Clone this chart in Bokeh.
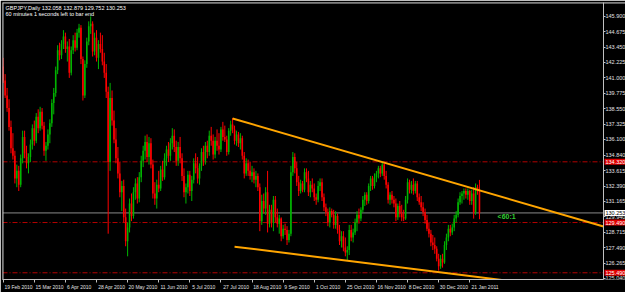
from bokeh.plotting import figure
from bokeh.models import (Range1d, LinearAxis, FixedTicker, PrintfTickFormatter,
                          Label, Span, ColumnDataSource)
from bokeh.embed import file_html
from bokeh.resources import INLINE

# ---------------- data ----------------
header_text = "GBPJPY,Daily  132.058 132.879 129.752 130.253"
timer_text = "60 minutes 1 seconds left to bar end"
timer_tag = "<60:1"

opens = [141.9, 140.8, 139.6, 138.6, 137.1, 135.4, 134.8, 133.0, 133.6, 132.5,
         134.6, 136.3, 135.0, 134.2, 134.7, 135.7, 137.0, 136.0, 137.9, 137.0,
         138.3, 137.2, 135.2, 135.6, 136.5, 137.4, 139.0, 139.8, 141.6, 143.2,
         142.8, 143.7, 144.3, 143.3, 143.5, 141.4, 143.2, 144.0, 143.4, 144.6,
         145.0, 142.5, 139.6, 142.1, 143.9, 145.1, 145.3, 143.1, 144.2, 142.6,
         143.7, 143.3, 142.3, 141.4, 139.9, 134.3, 139.4, 137.6, 136.1, 134.6,
         133.4, 131.9, 132.4, 129.9, 128.0, 129.1, 131.0, 130.0, 131.9, 132.6,
         131.4, 133.1, 134.4, 135.2, 135.9, 134.7, 135.8, 134.1, 131.8, 131.4,
         132.5, 132.2, 133.7, 133.1, 134.6, 135.3, 134.8, 135.8, 136.4, 135.5,
         134.4, 135.5, 134.6, 133.2, 131.9, 132.3, 133.3, 132.0, 132.9, 134.2,
         133.8, 133.0, 134.0, 135.1, 134.4, 135.6, 135.1, 136.4, 136.0, 134.9,
         136.0, 135.6, 135.3, 136.9, 136.3, 136.1, 135.1, 136.8, 137.3, 136.9,
         136.0, 136.5, 135.8, 136.2, 134.8, 133.4, 134.2, 133.6, 133.2, 133.5,
         132.9, 133.2, 132.3, 129.6, 131.2, 130.6, 131.9, 129.4, 130.5, 129.5,
         131.3, 129.9, 129.4, 129.8, 128.4, 129.0, 128.9, 128.1, 128.6, 133.5,
         134.7, 133.8, 132.7, 132.0, 132.6, 132.1, 133.5, 133.0, 131.9, 132.5,
         132.2, 131.5, 131.3, 132.4, 132.7, 131.5, 130.7, 130.3, 129.5, 130.4,
         130.1, 129.3, 130.0, 128.9, 128.0, 128.4, 127.5, 127.1, 127.3, 128.9,
         128.3, 128.7, 129.5, 130.1, 129.8, 130.5, 131.3, 131.7, 131.2, 132.4,
         133.0, 132.4, 133.1, 133.4, 133.8, 133.4, 134.1, 133.2, 132.5, 131.3,
         131.7, 131.3, 131.0, 129.9, 130.8, 130.2, 129.9, 129.8, 131.3, 132.7,
         132.1, 132.5, 132.0, 132.6, 131.5, 131.1, 130.7, 130.3, 129.7, 129.0,
         128.6, 127.9, 127.7, 127.4, 126.6, 126.0, 126.6, 126.3, 127.7, 128.3,
         129.0, 128.7, 129.1, 129.8, 130.1, 131.1, 131.6, 131.8, 132.0, 131.7,
         132.0, 131.2, 131.8, 130.3, 132.3, 132.058]
highs = [142.6, 141.3, 140.2, 139.3, 137.6, 136.6, 135.2, 134.1, 134.0, 134.9,
         136.8, 136.8, 135.6, 135.0, 136.1, 137.3, 137.6, 138.2, 138.5, 138.7,
         138.6, 137.5, 135.9, 136.9, 137.7, 139.3, 140.2, 141.9, 143.6, 143.8,
         144.0, 144.8, 144.6, 143.9, 144.1, 143.5, 144.4, 144.6, 144.9, 145.3,
         145.2, 142.7, 142.4, 144.2, 145.5, 145.9, 145.5, 144.6, 144.8, 144.0,
         144.6, 144.4, 143.0, 142.1, 140.3, 140.6, 140.0, 138.4, 137.0, 135.5,
         134.3, 132.8, 132.9, 130.6, 129.5, 131.4, 131.8, 132.3, 133.0, 133.1,
         133.5, 134.8, 135.6, 136.4, 136.5, 136.3, 136.2, 134.5, 132.7, 132.9,
         133.6, 134.0, 134.4, 135.0, 135.6, 135.9, 136.2, 137.0, 136.9, 136.0,
         135.9, 136.3, 135.0, 133.8, 132.6, 133.6, 133.6, 133.2, 134.6, 135.0,
         134.7, 134.2, 135.4, 135.6, 135.9, 136.0, 136.8, 137.1, 136.5, 136.3,
         136.9, 136.6, 137.1, 137.5, 137.2, 136.4, 137.0, 137.6, 137.8, 137.2,
         136.8, 136.7, 136.6, 136.4, 135.1, 134.6, 134.5, 134.3, 134.0, 133.8,
         133.6, 133.4, 132.6, 131.7, 131.8, 132.3, 133.6, 130.9, 130.9, 131.6,
         131.6, 130.6, 130.1, 129.9, 129.3, 129.4, 129.2, 128.9, 134.0, 135.1,
         135.0, 134.3, 133.2, 132.9, 132.8, 133.8, 133.8, 133.6, 132.8, 133.0,
         132.6, 131.8, 132.8, 133.0, 133.0, 131.8, 131.0, 130.6, 130.7, 130.6,
         130.5, 130.4, 130.2, 129.3, 128.8, 128.8, 128.3, 127.6, 129.3, 129.3,
         129.0, 129.8, 130.4, 130.6, 130.7, 131.6, 131.9, 131.9, 132.6, 133.2,
         133.2, 133.4, 133.6, 134.0, 134.0, 134.33, 134.2, 133.6, 132.7, 131.9,
         132.0, 131.6, 131.4, 131.0, 131.2, 130.9, 130.5, 131.6, 133.0, 132.9,
         132.8, 133.0, 132.8, 132.8, 131.8, 131.6, 131.1, 130.6, 130.1, 129.5,
         128.9, 128.5, 128.3, 127.6, 127.0, 126.9, 127.0, 128.0, 128.6, 129.3,
         129.3, 129.4, 130.1, 130.4, 131.4, 131.9, 132.0, 132.2, 132.2, 132.2,
         132.1, 132.1, 132.3, 132.6, 132.5, 132.879]
lows = [140.6, 139.4, 138.3, 136.8, 135.0, 134.5, 132.6, 132.3, 132.0, 132.3,
        134.2, 134.6, 133.8, 133.4, 134.3, 135.3, 135.6, 135.8, 136.6, 136.8,
        136.9, 134.8, 134.4, 135.3, 135.8, 137.1, 138.1, 139.5, 141.3, 142.4,
        142.5, 143.3, 143.0, 142.3, 141.0, 141.2, 142.9, 143.1, 143.2, 144.2,
        142.1, 139.2, 139.4, 141.8, 143.6, 144.5, 142.7, 142.8, 142.3, 141.7,
        143.0, 142.0, 141.0, 139.4, 128.6, 133.6, 137.2, 135.8, 134.2, 133.0,
        131.5, 130.4, 129.5, 127.6, 126.8, 128.7, 129.6, 129.8, 131.3, 131.0,
        131.1, 132.7, 133.9, 134.5, 134.3, 134.1, 133.8, 131.4, 130.9, 130.6,
        131.9, 132.0, 132.8, 132.9, 134.0, 134.3, 134.4, 135.3, 135.1, 134.0,
        134.0, 134.2, 132.8, 131.5, 131.0, 131.8, 131.6, 131.2, 132.6, 133.4,
        132.6, 132.5, 133.6, 134.0, 134.1, 134.6, 134.8, 135.6, 134.5, 134.6,
        135.2, 134.9, 135.1, 136.0, 135.9, 134.8, 134.9, 136.4, 136.6, 135.7,
        135.6, 135.5, 135.3, 134.5, 133.0, 133.2, 133.2, 132.9, 132.7, 132.6,
        132.3, 132.0, 128.8, 129.3, 130.2, 130.1, 128.7, 129.1, 129.1, 128.8,
        129.5, 129.1, 128.6, 128.0, 128.2, 128.5, 127.7, 127.9, 128.4, 133.2,
        133.4, 132.4, 131.6, 131.8, 131.9, 131.9, 132.7, 131.6, 131.5, 131.9,
        131.2, 130.9, 131.1, 132.0, 131.2, 130.4, 130.0, 129.2, 129.1, 129.9,
        129.0, 129.0, 128.6, 127.7, 127.5, 127.2, 126.8, 126.45, 126.9, 128.0,
        127.9, 128.5, 128.8, 129.4, 129.6, 130.3, 130.8, 130.9, 131.0, 132.0,
        132.1, 132.2, 132.7, 133.0, 133.1, 133.2, 132.9, 132.2, 131.0, 130.9,
        131.0, 130.7, 129.6, 129.7, 129.9, 129.6, 129.6, 129.7, 131.0, 131.8,
        131.8, 131.7, 131.8, 131.2, 130.9, 130.4, 130.0, 129.4, 128.8, 128.3,
        127.6, 127.3, 127.0, 126.4, 125.66, 125.8, 125.9, 126.2, 127.3, 128.0,
        128.4, 128.5, 128.8, 129.5, 129.9, 130.9, 131.0, 131.3, 131.4, 131.3,
        130.9, 130.9, 129.8, 130.1, 131.7, 129.752]
closes = [140.8, 139.6, 138.6, 137.1, 135.4, 134.8, 133.0, 133.6, 132.5, 134.6,
          136.3, 135.0, 134.2, 134.7, 135.7, 137.0, 136.0, 137.9, 137.0, 138.3,
          137.2, 135.2, 135.6, 136.5, 137.4, 139.0, 139.8, 141.6, 143.2, 142.8,
          143.7, 144.3, 143.3, 143.5, 141.4, 143.2, 144.0, 143.4, 144.6, 145.0,
          142.5, 139.6, 142.1, 143.9, 145.1, 145.3, 143.1, 144.2, 142.6, 143.7,
          143.3, 142.3, 141.4, 139.9, 134.3, 139.4, 137.6, 136.1, 134.6, 133.4,
          131.9, 132.4, 129.9, 128.0, 129.1, 131.0, 130.0, 131.9, 132.6, 131.4,
          133.1, 134.4, 135.2, 135.9, 134.7, 135.8, 134.1, 131.8, 131.4, 132.5,
          132.2, 133.7, 133.1, 134.6, 135.3, 134.8, 135.8, 136.4, 135.5, 134.4,
          135.5, 134.6, 133.2, 131.9, 132.3, 133.3, 132.0, 132.9, 134.2, 133.8,
          133.0, 134.0, 135.1, 134.4, 135.6, 135.1, 136.4, 136.0, 134.9, 136.0,
          135.6, 135.3, 136.9, 136.3, 136.1, 135.1, 136.8, 137.3, 136.9, 136.0,
          136.5, 135.8, 136.2, 134.8, 133.4, 134.2, 133.6, 133.2, 133.5, 132.9,
          133.2, 132.3, 129.6, 131.2, 130.6, 131.9, 129.4, 130.5, 129.5, 131.3,
          129.9, 129.4, 129.8, 128.4, 129.0, 128.9, 128.1, 128.6, 133.5, 134.7,
          133.8, 132.7, 132.0, 132.6, 132.1, 133.5, 133.0, 131.9, 132.5, 132.2,
          131.5, 131.3, 132.4, 132.7, 131.5, 130.7, 130.3, 129.5, 130.4, 130.1,
          129.3, 130.0, 128.9, 128.0, 128.4, 127.5, 127.1, 127.3, 128.9, 128.3,
          128.7, 129.5, 130.1, 129.8, 130.5, 131.3, 131.7, 131.2, 132.4, 133.0,
          132.4, 133.1, 133.4, 133.8, 133.4, 134.1, 133.2, 132.5, 131.3, 131.7,
          131.3, 131.0, 129.9, 130.8, 130.2, 129.9, 129.8, 131.3, 132.7, 132.1,
          132.5, 132.0, 132.6, 131.5, 131.1, 130.7, 130.3, 129.7, 129.0, 128.6,
          127.9, 127.7, 127.4, 126.6, 126.0, 126.6, 126.3, 127.7, 128.3, 129.0,
          128.7, 129.1, 129.8, 130.1, 131.1, 131.6, 131.8, 132.0, 131.7, 132.0,
          131.2, 131.8, 130.3, 132.3, 132.058, 130.253]

date_tick_bars = [0, 16, 32, 48, 64, 80, 96, 112, 128, 144, 160, 176, 192, 208, 224, 240]
date_labels = ["19 Feb 2010", "15 Mar 2010", "6 Apr 2010", "28 Apr 2010", "20 May 2010",
               "11 Jun 2010", "5 Jul 2010", "27 Jul 2010", "18 Aug 2010", "9 Sep 2010",
               "1 Oct 2010", "25 Oct 2010", "16 Nov 2010", "8 Dec 2010", "30 Dec 2010",
               "21 Jan 2011"]
price_ticks = [145.900, 144.675, 143.450, 142.225, 141.000, 139.775, 138.550, 137.325,
               136.100, 134.840, 133.615, 132.390, 131.165, 129.940, 128.715, 127.490,
               126.265, 125.040]
level_prices = [134.320, 129.490, 125.490]
bid_price = 130.253
upper_trend_bars = [118, 195]
upper_trend_prices = [137.77, 134.30]
lower_trend_bars = [119, 177]
lower_trend_prices = [127.57, 126.45]

# ---------------- style ----------------
FONT = "Liberation Sans"
GREEN = "#00b400"
RED = "#ff0000"
FRAME = "#c0c0c0"
PX_PER_BAR = 1.944
FRAME_W = 623                      # frame spans the whole width; price scale drawn inside it
X_START = -0.36
X_END = X_START + FRAME_W / PX_PER_BAR
X_AXIS = X_START + 601 / PX_PER_BAR  # where the price scale line sits
Y_START, Y_END = 124.955, 147.0
DATE_FS = 5.0

p = figure(width=625, height=292, output_backend="svg", toolbar_location=None,
           x_range=Range1d(X_START, X_END), y_range=Range1d(Y_START, Y_END),
           x_axis_location=None, y_axis_location=None,
           background_fill_color="black", border_fill_color="black",
           min_border_left=2, min_border_top=2, min_border_right=0, min_border_bottom=10)
p.xgrid.visible = False
p.ygrid.visible = False
p.outline_line_color = None

# window border (left and top) and the price-scale border
p.add_layout(Span(location=X_START, dimension="height", line_color=FRAME, line_width=2))
p.add_layout(Span(location=Y_END, dimension="width", line_color=FRAME, line_width=2))
p.add_layout(Span(location=X_AXIS, dimension="height", line_color=FRAME, line_width=1))

# right price scale
yaxis = LinearAxis(fixed_location=X_AXIS, ticker=FixedTicker(ticks=price_ticks),
                   formatter=PrintfTickFormatter(format="%.3f"),
                   major_tick_out=2, major_tick_in=0, minor_tick_out=0, minor_tick_in=0,
                   major_label_standoff=0, axis_line_color=FRAME, axis_line_width=1,
                   major_tick_line_color=FRAME, major_label_text_color="#e0e0e0",
                   major_label_text_font=FONT, major_label_text_font_size="5.5px")
p.add_layout(yaxis, "right")

# bottom: tick marks at the bar positions
tick_axis = LinearAxis(ticker=FixedTicker(ticks=date_tick_bars), bounds=(X_START, X_AXIS),
                       major_tick_out=3, major_tick_in=0, minor_tick_out=0, minor_tick_in=0,
                       major_label_standoff=0, major_label_text_font_size="0px",
                       major_label_text_color=None, axis_line_color=FRAME,
                       major_tick_line_color=FRAME)
p.add_layout(tick_axis, "below")

# bottom: date labels, shifted so that each starts at its tick (MT4 style)
def text_width(s, size):
    return sum(0.556 if ch.isdigit() else 0.278 if ch == " " else 0.54 for ch in s) * size

label_pos = [round(b + (text_width(t, DATE_FS) / 2 + 1.5) / PX_PER_BAR, 3)
             for b, t in zip(date_tick_bars, date_labels)]
label_axis = LinearAxis(ticker=FixedTicker(ticks=label_pos),
                        major_label_overrides={pos: t for pos, t in zip(label_pos, date_labels)},
                        major_tick_out=0, major_tick_in=0, minor_tick_out=0, minor_tick_in=0,
                        major_label_standoff=1, axis_line_color=None,
                        major_label_text_color="#e0e0e0", major_label_text_font=FONT,
                        major_label_text_font_size=f"{DATE_FS}px")
p.add_layout(label_axis, "below")

# horizontal level lines and bid line, up to the price scale
n = len(level_prices)
p.segment(x0=[X_START] * n, y0=level_prices, x1=[X_AXIS] * n, y1=level_prices,
          line_color="#b40000", line_width=1, line_dash="5 2 1 2")
p.segment(x0=[X_START], y0=[bid_price], x1=[X_AXIS], y1=[bid_price],
          line_color="#8a8a8a", line_width=1)

# candles
bars = list(range(len(closes)))
def make_source(ids):
    return ColumnDataSource(dict(
        x=ids,
        high=[highs[i] for i in ids], low=[lows[i] for i in ids],
        top=[max(opens[i], closes[i]) for i in ids],
        bottom=[min(opens[i], closes[i]) for i in ids]))

up_ids = [i for i in bars if closes[i] >= opens[i]]
dn_ids = [i for i in bars if closes[i] < opens[i]]
for ids, col in ((up_ids, GREEN), (dn_ids, RED)):
    s = make_source(ids)
    p.segment(x0="x", y0="low", x1="x", y1="high", source=s, line_color=col, line_width=1)
    p.vbar(x="x", width=0.8, top="top", bottom="bottom", source=s,
           fill_color=col, line_color=None)

# trend lines (rays extended to the price scale)
def ray(bx, py, x_to):
    slope = (py[1] - py[0]) / (bx[1] - bx[0])
    return [bx[0], x_to], [py[0], py[0] + slope * (x_to - bx[0])]

for bx, py in ((upper_trend_bars, upper_trend_prices), (lower_trend_bars, lower_trend_prices)):
    xs, ys = ray(bx, py, X_AXIS)
    p.line(xs, ys, line_color="#ffa500", line_width=2)

# price tags on the price scale (level lines red, bid white)
for lv in level_prices:
    p.add_layout(Label(x=X_AXIS, y=lv, x_offset=1, text=f"{lv:.3f}", text_color="white",
                       text_font=FONT, text_font_size="5.5px", text_baseline="middle",
                       background_fill_color="#e00000", padding=1))
p.add_layout(Label(x=X_AXIS, y=bid_price, x_offset=1, text=f"{bid_price:.3f}",
                   text_color="black", text_font=FONT, text_font_size="5.5px",
                   text_baseline="middle", background_fill_color="white", padding=1))

# header and timer texts
p.add_layout(Label(x=X_START, y=Y_END, x_offset=3, y_offset=-2, text=header_text,
                   text_color="white", text_font=FONT, text_font_size="5.5px",
                   text_baseline="top"))
p.add_layout(Label(x=X_START, y=Y_END, x_offset=3, y_offset=-8, text=timer_text,
                   text_color="white", text_font=FONT, text_font_size="5.5px",
                   text_baseline="top"))
p.add_layout(Label(x=len(closes) - 1 + 9.3, y=bid_price, y_offset=-4, text=timer_tag,
                   text_color="#32cd32", text_font=FONT, text_font_size="7px",
                   text_font_style="bold", text_baseline="middle"))

open("out.html", "w").write(file_html(p, INLINE))
